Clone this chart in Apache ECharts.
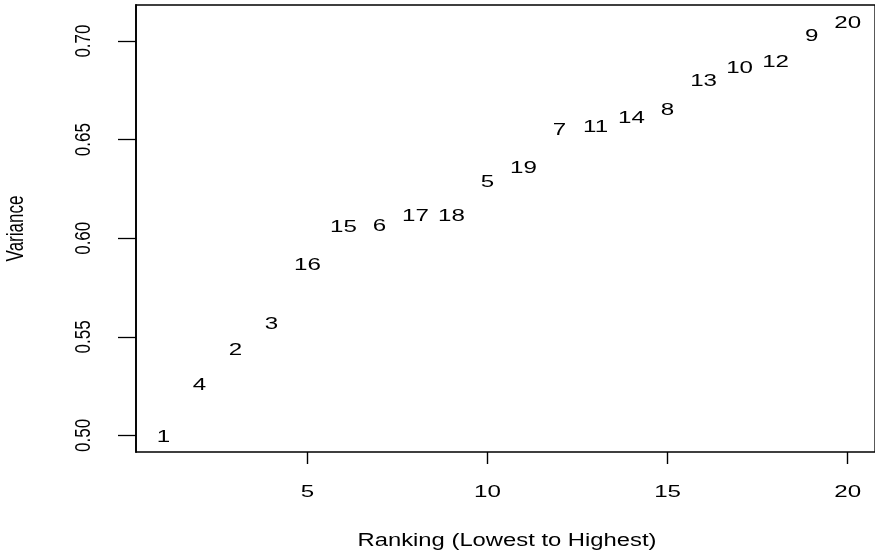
<!DOCTYPE html>
<html>
<head>
<meta charset="utf-8">
<script src="https://cdn.jsdelivr.net/npm/echarts@6/dist/echarts.min.js"></script>
<style>
  html, body { margin: 0; padding: 0; background: #fff; }
  #chart { width: 875px; height: 554px; }
</style>
</head>
<body>
<div id="chart"></div>
<script>
// Ranking position of each item (x) and its variance (y); the item id is drawn as the mark.
const ranks = [1, 2, 3, 4, 5, 6, 7, 8, 9, 10, 11, 12, 13, 14, 15, 16, 17, 18, 19, 20];
const itemIds = ['1', '4', '2', '3', '16', '15', '6', '17', '18', '5', '19', '7', '11', '14', '8', '13', '10', '12', '9', '20'];
const variance = [0.5000, 0.5260, 0.5437, 0.5569, 0.5872, 0.6062, 0.6066, 0.6117, 0.6120, 0.6290,
                  0.6363, 0.6556, 0.6569, 0.6617, 0.6657, 0.6806, 0.6868, 0.6902, 0.7034, 0.7099];

// Tick positions / labels
const xTicks = [5, 10, 15, 20];
const xTickLabels = ['5', '10', '15', '20'];
const yTicks = [0.50, 0.55, 0.60, 0.65, 0.70];
const yTickLabels = ['0.50', '0.55', '0.60', '0.65', '0.70'];

const xTitle = 'Ranking (Lowest to Highest)';
const yTitle = 'Variance';

// Axis limits padded by 4% of the data range on each side
function padded(vals) {
  const lo = Math.min.apply(null, vals), hi = Math.max.apply(null, vals);
  const d = (hi - lo) * 0.04;
  return [lo - d, hi + d];
}
const [xLo, xHi] = padded(ranks);
const [yLo, yHi] = padded(variance);

const FONT = "'Liberation Sans', Arial, Helvetica, sans-serif";
const WIDE = 1.42;     // horizontal glyph stretch of the labels
const GLYPH_DY = 1.5;  // centres digits on their anchor point
const GRID = { left: 136, top: 5, right: -3, bottom: 102 };

const chart = echarts.init(document.getElementById('chart'), null, { renderer: 'canvas' });

const option = {
  animation: false,
  backgroundColor: '#ffffff',
  grid: Object.assign({ show: true, borderColor: '#000', borderWidth: 1.3, backgroundColor: 'transparent' }, GRID),
  xAxis: {
    type: 'value', min: xLo, max: xHi,
    splitLine: { show: false },
    axisLine: { show: false },
    axisTick: { show: true, customValues: xTicks, length: 12, inside: false, lineStyle: { color: '#000', width: 1.4 } },
    axisLabel: { show: false }
  },
  yAxis: {
    type: 'value', min: yLo, max: yHi,
    splitLine: { show: false },
    axisLine: { show: true, onZero: false, lineStyle: { color: '#000', width: 1.8 } },
    axisTick: { show: true, customValues: yTicks, length: 18, inside: false, lineStyle: { color: '#000', width: 1.3 } },
    axisLabel: { show: false }
  },
  graphic: [
    {
      type: 'text', x: 507, y: 541, scaleX: 1.36,
      style: { text: xTitle, font: '17.5px ' + FONT, fill: '#000', align: 'center', verticalAlign: 'middle' }
    },
    {
      type: 'text', x: 16, y: 228.5, rotation: Math.PI / 2, scaleY: 1.4,
      style: { text: yTitle, font: '17px ' + FONT, fill: '#000', align: 'center', verticalAlign: 'middle' }
    }
  ],
  series: [
    {
      // item ids plotted as text at (rank, variance)
      type: 'custom',
      clip: false,
      data: ranks.map((r, i) => [r, variance[i]]),
      renderItem: function (params, api) {
        const p = api.coord([api.value(0), api.value(1)]);
        return {
          type: 'text', x: p[0], y: p[1] + GLYPH_DY, scaleX: WIDE,
          style: { text: itemIds[params.dataIndex], font: '17px ' + FONT, fill: '#000', align: 'center', verticalAlign: 'middle' }
        };
      }
    },
    {
      // x tick labels below the frame
      type: 'custom',
      clip: false,
      data: xTicks.map(v => [v, yLo]),
      renderItem: function (params, api) {
        const p = api.coord([api.value(0), api.value(1)]);
        return {
          type: 'text', x: p[0], y: p[1] + 38.5 + GLYPH_DY, scaleX: WIDE,
          style: { text: xTickLabels[params.dataIndex], font: '17px ' + FONT, fill: '#000', align: 'center', verticalAlign: 'middle' }
        };
      }
    },
    {
      // y tick labels, rotated, left of the frame
      type: 'custom',
      clip: false,
      data: yTicks.map(v => [xLo, v]),
      renderItem: function (params, api) {
        const p = api.coord([api.value(0), api.value(1)]);
        return {
          type: 'text', x: p[0] - 52, y: p[1], rotation: Math.PI / 2, scaleY: 1.25,
          style: { text: yTickLabels[params.dataIndex], font: '17px ' + FONT, fill: '#000', align: 'center', verticalAlign: 'middle' }
        };
      }
    }
  ]
};

chart.setOption(option);
</script>
</body>
</html>
